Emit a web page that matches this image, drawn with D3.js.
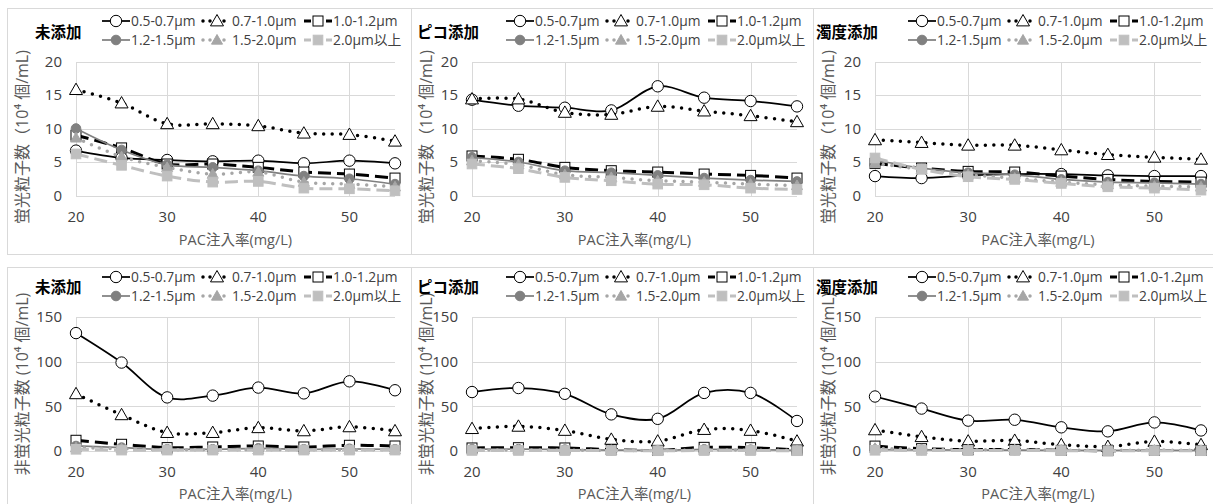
<!DOCTYPE html>
<html>
<head>
<meta charset="utf-8">
<style>
  body { margin: 0; background: #fff; }
  svg text { font-family: "Open Sans", "Noto Sans CJK JP", sans-serif; }
  .grid line { stroke: #d9d9d9; stroke-width: 1; shape-rendering: crispEdges; }
  .grid path { stroke-width: 0; }
  .tick-lbl { fill: #404040; font-size: 15px; }
  .ax-title { fill: #595959; font-size: 14.5px; }
  .y-title { fill: #595959; font-size: 16px; }
  .leg-lbl { fill: #404040; font-size: 13.8px; }
  .p-title { fill: #000; font-size: 15.5px; font-weight: bold; }
</style>
</head>
<body>
<svg width="1213" height="504"></svg>
<script src="https://d3js.org/d3.v7.min.js"></script>
<script>

// PAC dose (mg/L)
var xVals = [20, 25, 30, 35, 40, 45, 50, 55];
var seriesNames = ["0.5-0.7μm", "0.7-1.0μm", "1.0-1.2μm", "1.2-1.5μm", "1.5-2.0μm", "2.0μm以上"];
var panelTitles = ["未添加", "ピコ添加", "濁度添加"];
var yTitles = ["蛍光粒子数（10⁴ 個/mL)", "非蛍光粒子数 (10⁴ 個/mL)"];
var yTicksTop = [0, 5, 10, 15, 20];
var yTicksBottom = [0, 50, 100, 150];
var xTicks = [20, 30, 40, 50];

// fluorescent particles (10^4 /mL), one row per size class
var fluorNone = [
  [6.7, 5.6, 5.3, 5.1, 5.2, 4.8, 5.2, 4.8],
  [15.8, 13.8, 10.7, 10.7, 10.4, 9.3, 9.1, 8.1],
  [9.0, 7.1, 4.7, 4.7, 4.2, 3.5, 3.2, 2.6],
  [10.0, 6.8, 4.6, 4.2, 3.7, 2.9, 2.5, 1.7],
  [8.6, 5.8, 4.2, 3.2, 3.5, 2.0, 1.7, 1.3],
  [6.2, 4.5, 2.9, 2.0, 2.1, 1.1, 1.0, 0.7]
];
var fluorPico = [
  [14.3, 13.4, 13.1, 12.7, 16.3, 14.6, 14.1, 13.3],
  [14.4, 14.4, 12.4, 12.1, 13.3, 12.6, 11.9, 11.0],
  [5.9, 5.4, 4.2, 3.7, 3.5, 3.2, 3.0, 2.6],
  [5.7, 5.0, 3.7, 3.4, 3.0, 2.6, 2.3, 2.1],
  [5.2, 4.6, 3.1, 2.7, 2.2, 2.0, 1.7, 1.5],
  [4.7, 4.0, 2.7, 2.2, 1.7, 1.6, 1.1, 0.9]
];
var fluorTurb = [
  [2.9, 2.6, 3.0, 3.2, 3.2, 3.0, 2.9, 2.9],
  [8.3, 7.9, 7.5, 7.5, 6.8, 6.1, 5.7, 5.4],
  [4.8, 4.1, 3.6, 3.5, 2.9, 2.4, 2.1, 2.0],
  [5.3, 4.1, 3.4, 3.1, 2.4, 2.0, 1.9, 1.7],
  [4.8, 3.9, 3.1, 2.6, 2.0, 1.6, 1.4, 1.3],
  [5.6, 3.9, 2.8, 2.4, 1.8, 1.3, 1.1, 0.8]
];
// non-fluorescent particles (10^4 /mL)
var nonFluorNone = [
  [132, 99, 60, 62, 71, 64.5, 78, 68],
  [64, 40.5, 20.6, 20.6, 26, 22.5, 27, 22.5],
  [12, 7.5, 3.8, 4.5, 5.6, 4.5, 6.4, 5.6],
  [5.6, 3.8, 1.9, 1.9, 3.0, 1.9, 2.5, 1.9],
  [3.8, 2.6, 1.5, 1.5, 1.5, 1.5, 1.5, 1.5],
  [1.9, 1.0, 1.0, 1.0, 1.0, 1.0, 1.0, 1.0]
];
var nonFluorPico = [
  [66, 70.5, 64, 41, 36, 65, 65, 33.6],
  [25, 27.6, 23, 13, 11, 24, 23, 11],
  [3.4, 3.7, 3.4, 1.5, 0.7, 4.1, 3.7, 1.1],
  [2.0, 2.0, 1.5, 1.0, 0.8, 1.8, 1.5, 0.8],
  [1.2, 1.2, 1.0, 0.8, 0.6, 1.0, 1.0, 0.6],
  [0.6, 0.6, 0.5, 0.4, 0.3, 0.5, 0.5, 0.3]
];
var nonFluorTurb = [
  [61, 47.5, 34, 35, 26.5, 22, 32, 23],
  [23.6, 16, 11, 11.8, 7, 5, 10.7, 7],
  [5.5, 2.6, 1.5, 1.8, 0.7, 0.4, 0.6, 0.6],
  [1.5, 1.2, 1.0, 1.0, 0.8, 0.6, 0.8, 0.6],
  [3.0, 1.8, 1.5, 1.5, 1.0, 0.8, 1.0, 0.8],
  [0.8, 0.6, 0.5, 0.5, 0.4, 0.3, 0.4, 0.3]
];

// series look (Excel-like)
var styles = [
  {stroke: "#000", width: 1.75, dash: null, cap: "butt", marker: "circle", fill: "#fff", mstroke: "#000"},
  {stroke: "#000", width: 3.5, dash: "0 8.5", cap: "round", marker: "triangle", fill: "#fff", mstroke: "#000"},
  {stroke: "#000", width: 3, dash: "13 6", cap: "butt", marker: "square", fill: "#fff", mstroke: "#000"},
  {stroke: "#808080", width: 1.75, dash: null, cap: "butt", marker: "circle", fill: "#808080", mstroke: "#808080"},
  {stroke: "#a6a6a6", width: 3.5, dash: "0 8.5", cap: "round", marker: "triangle", fill: "#a6a6a6", mstroke: "#a6a6a6"},
  {stroke: "#bfbfbf", width: 3, dash: "13 6", cap: "butt", marker: "square", fill: "#bfbfbf", mstroke: "#bfbfbf"}
];

var cols = [
  {left: 7, right: 411, plotL: 76, plotR: 395, titleX: 35},
  {left: 411, right: 813, plotL: 472, plotR: 797, titleX: 417},
  {left: 813, right: 1216, plotL: 875, plotR: 1201, titleX: 816}
];
var rows = [
  {top: 8, bottom: 254, plotT: 61.5, plotB: 195.5, ticks: yTicksTop, max: 20, yTitle: yTitles[0],
   titleY: 38, leg1: 21, leg2: 40, tickY: 222, axTitleY: 245, yTitleY: 137, data: [fluorNone, fluorPico, fluorTurb]},
  {top: 267, bottom: 507, plotT: 317, plotB: 451, ticks: yTicksBottom, max: 150, yTitle: yTitles[1],
   titleY: 293, leg1: 277, leg2: 296, tickY: 477, axTitleY: 499, yTitleY: 384, data: [nonFluorNone, nonFluorPico, nonFluorTurb]}
];

var svg = d3.select("svg");

function drawMarker(g, type, cx, cy, st) {
  var m;
  if (type == "circle") {
    m = g.append("circle").attr("cx", cx).attr("cy", cy).attr("r", st.fill == "#fff" ? 5.7 : 4.8);
  } else if (type == "triangle") {
    var s = st.fill == "#fff" ? 6.5 : 5.5;
    m = g.append("path").attr("d", "M" + cx + "," + (cy - s) + "L" + (cx + s) + "," + (cy + s * 0.75) + "L" + (cx - s) + "," + (cy + s * 0.75) + "Z");
  } else {
    var h = st.fill == "#fff" ? 5 : 4.8;
    m = g.append("rect").attr("x", cx - h).attr("y", cy - h).attr("width", 2 * h).attr("height", 2 * h);
  }
  m.attr("fill", st.fill).attr("stroke", st.mstroke).attr("stroke-width", 1);
}

rows.forEach(function(row, ri) {
  cols.forEach(function(col, ci) {
    var g = svg.append("g");
    // panel frame
    g.append("rect")
      .attr("x", col.left + 0.5).attr("y", row.top + 0.5)
      .attr("width", col.right - col.left).attr("height", row.bottom - row.top)
      .attr("fill", "#fff").attr("stroke", "#d9d9d9");

    var x = d3.scaleLinear().domain([20, 55]).range([col.plotL, col.plotR]);
    var y = d3.scaleLinear().domain([0, row.max]).range([row.plotB, row.plotT]);

    // grid lines
    g.append("g").attr("class", "grid")
      .attr("transform", "translate(0," + row.plotB + ")")
      .call(d3.axisBottom(x).tickValues(xTicks).tickSize(-(row.plotB - row.plotT)).tickFormat(""));
    g.append("g").attr("class", "grid")
      .attr("transform", "translate(" + col.plotL + ",0)")
      .call(d3.axisLeft(y).tickValues(row.ticks).tickSize(-(col.plotR - col.plotL)).tickFormat(""));

    // tick labels
    g.selectAll(".xl").data(xTicks).enter().append("text")
      .attr("class", "tick-lbl").attr("x", function(d) { return x(d); }).attr("y", row.tickY)
      .attr("text-anchor", "middle").text(function(d) { return d; });
    g.selectAll(".yl").data(row.ticks).enter().append("text")
      .attr("class", "tick-lbl").attr("x", col.plotL - 14).attr("y", function(d) { return y(d); })
      .attr("dy", "0.35em").attr("text-anchor", "end").text(function(d) { return d; });

    // axis titles
    g.append("text").attr("class", "ax-title")
      .attr("x", (col.plotL + col.plotR) / 2).attr("y", row.axTitleY)
      .attr("text-anchor", "middle").text("PAC注入率(mg/L)");
    g.append("text").attr("class", "y-title")
      .attr("transform", "translate(" + (col.left + 15) + "," + row.yTitleY + ") rotate(-90)")
      .attr("dy", "0.35em").attr("text-anchor", "middle").text(row.yTitle);

    // series
    var line = d3.line()
      .x(function(d, i) { return x(xVals[i]); })
      .y(function(d) { return y(d); })
      .curve(d3.curveCatmullRom.alpha(0.5));
    row.data[ci].forEach(function(vals, si) {
      var st = styles[si];
      var sg = g.append("g");
      sg.append("path").attr("d", line(vals))
        .attr("fill", "none").attr("stroke", st.stroke).attr("stroke-width", st.width)
        .attr("stroke-dasharray", st.dash).attr("stroke-linecap", st.cap);
      vals.forEach(function(v, i) { drawMarker(sg, st.marker, x(xVals[i]), y(v), st); });
    });

    // title
    g.append("text").attr("class", "p-title").attr("x", col.titleX).attr("y", row.titleY).text(panelTitles[ci]);

    // legend
    var legX = col.left + 95;
    seriesNames.forEach(function(name, si) {
      var st = styles[si];
      var lx = legX + (si % 3) * 101;
      var ly = si < 3 ? row.leg1 : row.leg2;
      var lg = g.append("g");
      lg.append("line").attr("x1", lx).attr("x2", lx + 28).attr("y1", ly).attr("y2", ly)
        .attr("stroke", st.stroke).attr("stroke-width", st.width)
        .attr("stroke-dasharray", st.dash ? (st.cap == "round" ? "0 7" : "7 4") : null)
        .attr("stroke-linecap", st.cap);
      drawMarker(lg, st.marker, lx + 14, ly, st);
      lg.append("text").attr("class", "leg-lbl").attr("x", lx + 29).attr("y", ly)
        .attr("dy", "0.35em").text(name);
    });
  });
});

</script>
</body>
</html>
